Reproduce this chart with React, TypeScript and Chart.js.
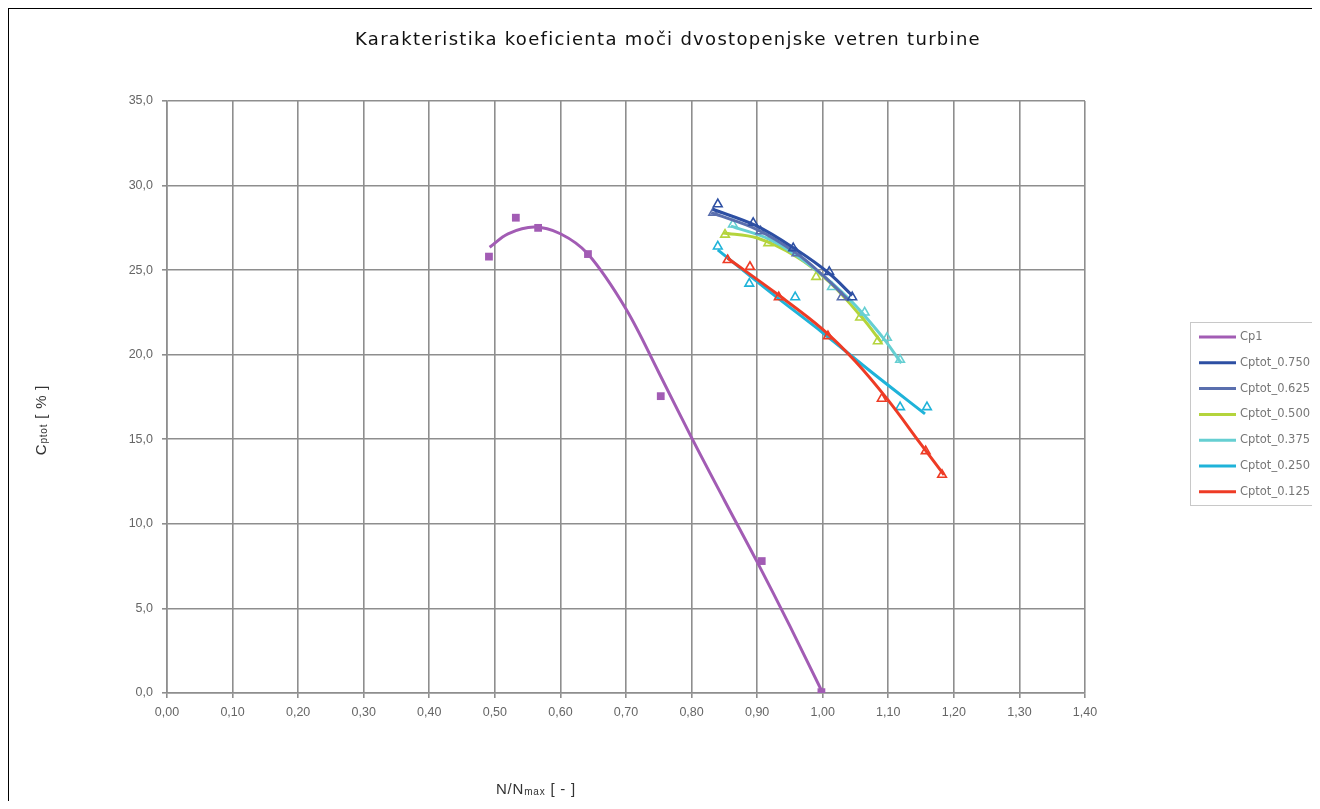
import React, { useEffect, useRef } from 'react';
import { Chart, registerables } from 'chart.js';

Chart.register(...registerables);

type Pt = [number, number];

const chartTitle = 'Karakteristika koeficienta moči dvostopenjske vetren turbine';

// Measured points [N/Nmax, Cptot %]
const cp1Points: Pt[] = [[0.491, 25.8], [0.532, 28.1], [0.566, 27.5], [0.642, 25.95], [0.753, 17.55], [0.907, 7.8], [0.998, 0.05]];
const cp750Points: Pt[] = [[0.840, 28.9], [0.894, 27.8], [0.955, 26.3], [1.010, 24.9], [1.045, 23.4]];
const cp625Points: Pt[] = [[0.833, 28.4], [0.905, 27.3], [0.960, 26.0], [1.029, 23.4]];
const cp500Points: Pt[] = [[0.851, 27.1], [0.917, 26.6], [0.990, 24.6], [1.057, 22.2], [1.084, 20.8]];
const cp375Points: Pt[] = [[0.863, 27.7], [1.014, 24.0], [1.064, 22.5], [1.098, 21.0], [1.118, 19.7]];
const cp250Points: Pt[] = [[0.840, 26.4], [0.888, 24.2], [0.958, 23.4], [1.118, 16.9], [1.159, 16.9]];
const cp125Points: Pt[] = [[0.855, 25.6], [0.889, 25.2], [0.933, 23.4], [1.008, 21.1], [1.090, 17.4], [1.157, 14.3], [1.182, 12.9]];

// Trend curves through each series
const cp1Trend: Pt[] = [[0.492, 26.35], [0.52, 27.15], [0.56, 27.55], [0.60, 27.15], [0.642, 25.95], [0.70, 22.7], [0.75, 18.95], [0.80, 15.1], [0.85, 11.4], [0.90, 7.75], [0.95, 3.95], [1.0, 0]];
const cp750Trend: Pt[] = [[0.832, 28.6], [0.90, 27.6], [0.96, 26.2], [1.01, 24.8], [1.045, 23.5]];
const cp625Trend: Pt[] = [[0.830, 28.4], [0.90, 27.4], [0.96, 26.0], [1.00, 24.7], [1.04, 23.2]];
const cp500Trend: Pt[] = [[0.848, 27.2], [0.90, 26.9], [0.96, 25.8], [1.01, 24.3], [1.06, 22.2], [1.09, 20.7]];
const cp375Trend: Pt[] = [[0.860, 27.6], [0.92, 26.8], [0.98, 25.3], [1.04, 23.3], [1.09, 21.1], [1.12, 19.5]];
const cp250Trend: Pt[] = [[0.840, 26.2], [0.92, 23.7], [1.00, 21.3], [1.08, 18.8], [1.156, 16.5]];
const cp125Trend: Pt[] = [[0.855, 25.7], [0.93, 23.6], [1.00, 21.5], [1.05, 19.6], [1.10, 17.3], [1.15, 14.7], [1.185, 12.9]];

const seriesNames = ['Cp1', 'Cptot_0.750', 'Cptot_0.625', 'Cptot_0.500', 'Cptot_0.375', 'Cptot_0.250', 'Cptot_0.125'];
const seriesColors = ['#a25cb4', '#2d4fa3', '#5a6fae', '#b4d43c', '#66cfd2', '#1fb3d9', '#ee3b25'];
const seriesPoints = [cp1Points, cp750Points, cp625Points, cp500Points, cp375Points, cp250Points, cp125Points];
const seriesTrends = [cp1Trend, cp750Trend, cp625Trend, cp500Trend, cp375Trend, cp250Trend, cp125Trend];
const seriesMarkers = ['rect', 'triangle', 'triangle', 'triangle', 'triangle', 'triangle', 'triangle'];
// lower order value is drawn on top
const seriesOrder = [1, 2, 4, 6, 5, 8, 7];

const xMin = 0;
const xMax = 1.4;
const xStep = 0.1;
const yMin = 0;
const yMax = 35;
const yStep = 5;

const commaFixed = (v: number, d: number) => Number(v).toFixed(d).replace('.', ',');

type Part = [string, boolean];

function drawParts(ctx: CanvasRenderingContext2D, parts: Part[], cx: number, cy: number, size: number, subSize: number) {
  const fontMain = `${size}px "Liberation Sans", Arial, sans-serif`;
  const fontSub = `${subSize}px "Liberation Sans", Arial, sans-serif`;
  let total = 0;
  for (const [t, sub] of parts) {
    ctx.font = sub ? fontSub : fontMain;
    total += ctx.measureText(t).width;
  }
  let x = cx - total / 2;
  ctx.textBaseline = 'middle';
  ctx.textAlign = 'left';
  for (const [t, sub] of parts) {
    ctx.font = sub ? fontSub : fontMain;
    ctx.fillText(t, x, sub ? cy + 2 : cy);
    x += ctx.measureText(t).width;
  }
}

const decorations = {
  id: 'decorations',
  afterDraw(chart: any) {
    const ctx: any = chart.ctx;
    // chart title
    ctx.save();
    ctx.fillStyle = '#111';
    ctx.font = '18px "DejaVu Sans", sans-serif';
    ctx.letterSpacing = '1.3px';
    ctx.textAlign = 'center';
    ctx.textBaseline = 'middle';
    ctx.fillText(chartTitle, 659, 31);
    ctx.restore();

    ctx.save();
    ctx.fillStyle = '#333';
    ctx.letterSpacing = '0.8px';
    // x axis title
    drawParts(ctx, [['N/N', false], ['max', true], [' [ - ]', false]], 527, 781, 15, 10);
    // y axis title, rotated
    ctx.translate(33, 411);
    ctx.rotate(-Math.PI / 2);
    drawParts(ctx, [['C', false], ['ptot', true], [' [ % ]', false]], 0, 0, 15, 10);
    ctx.restore();

    // legend box
    const lx = 1181, ly = 313, lw = 122, lh = 183;
    ctx.save();
    ctx.strokeStyle = '#c8c8c8';
    ctx.lineWidth = 1;
    ctx.strokeRect(lx + 0.5, ly + 0.5, lw, lh);
    const items = chart.data.datasets.filter((d: any) => d.legendEntry);
    items.forEach((d: any, i: number) => {
      const y = ly + 15 + i * 25.8;
      ctx.strokeStyle = d.borderColor;
      ctx.lineWidth = 3;
      ctx.beginPath();
      ctx.moveTo(lx + 9, y);
      ctx.lineTo(lx + 46, y);
      ctx.stroke();
      ctx.fillStyle = '#777';
      ctx.font = '11.5px "DejaVu Sans", sans-serif';
      ctx.textBaseline = 'middle';
      ctx.textAlign = 'left';
      ctx.fillText(d.label, lx + 50, y);
    });
    ctx.restore();
  },
};

export default function App() {
  const canvasRef = useRef<HTMLCanvasElement | null>(null);

  useEffect(() => {
    if (!canvasRef.current) return;
    const datasets: any[] = [];
    seriesNames.forEach((name, i) => {
      datasets.push({
        label: name,
        legendEntry: true,
        data: seriesTrends[i].map(([x, y]) => ({ x, y })),
        showLine: true,
        borderColor: seriesColors[i],
        backgroundColor: seriesColors[i],
        borderWidth: 3,
        pointRadius: 0,
        tension: 0.35,
        order: seriesOrder[i],
      });
      const isRect = seriesMarkers[i] === 'rect';
      datasets.push({
        label: name + ' points',
        data: seriesPoints[i].map(([x, y]) => ({ x, y })),
        showLine: false,
        pointStyle: seriesMarkers[i],
        pointRadius: isRect ? 5.5 : 5,
        pointBorderWidth: isRect ? 0 : 1.6,
        pointBorderColor: seriesColors[i],
        pointBackgroundColor: isRect ? seriesColors[i] : 'rgba(255,255,255,0)',
        borderColor: seriesColors[i],
        order: seriesOrder[i] + 0.5,
      });
    });

    const gridColor = '#8e8e8e';
    const tickFont = { family: '"Liberation Sans", Arial, sans-serif', size: 12.5 };
    const chart = new Chart(canvasRef.current, {
      type: 'scatter',
      data: { datasets },
      options: {
        responsive: false,
        animation: false,
        devicePixelRatio: 1,
        layout: { padding: { left: 0, top: 92, right: 232, bottom: 0 } },
        plugins: {
          legend: { display: false },
          tooltip: { enabled: false },
          title: { display: false },
        },
        scales: {
          x: {
            type: 'linear',
            min: xMin,
            max: xMax,
            afterFit: (s: any) => { s.height = 108; },
            ticks: {
              stepSize: xStep,
              color: '#666',
              padding: 7,
              maxRotation: 0,
              font: tickFont,
              callback: (v: any) => commaFixed(v, 2),
            },
            grid: { color: gridColor, lineWidth: 1.6, tickLength: 5, tickColor: gridColor },
            border: { color: gridColor, width: 1.6 },
          },
          y: {
            type: 'linear',
            min: yMin,
            max: yMax,
            afterFit: (s: any) => { s.width = 158; },
            ticks: {
              stepSize: yStep,
              color: '#666',
              padding: 9,
              font: tickFont,
              callback: (v: any) => commaFixed(v, 1),
            },
            grid: { color: gridColor, lineWidth: 1.6, tickLength: 5, tickColor: gridColor },
            border: { color: gridColor, width: 1.6 },
          },
        },
      } as any,
      plugins: [decorations],
    });
    return () => chart.destroy();
  }, []);

  return (
    <div style={{ width: 1308, height: 792, borderTop: '1px solid #000', borderLeft: '1px solid #000', borderRight: '1px solid #000', background: '#fff', overflow: 'hidden' }}>
      <canvas ref={canvasRef} width={1308} height={792} style={{ display: 'block' }} />
    </div>
  );
}
